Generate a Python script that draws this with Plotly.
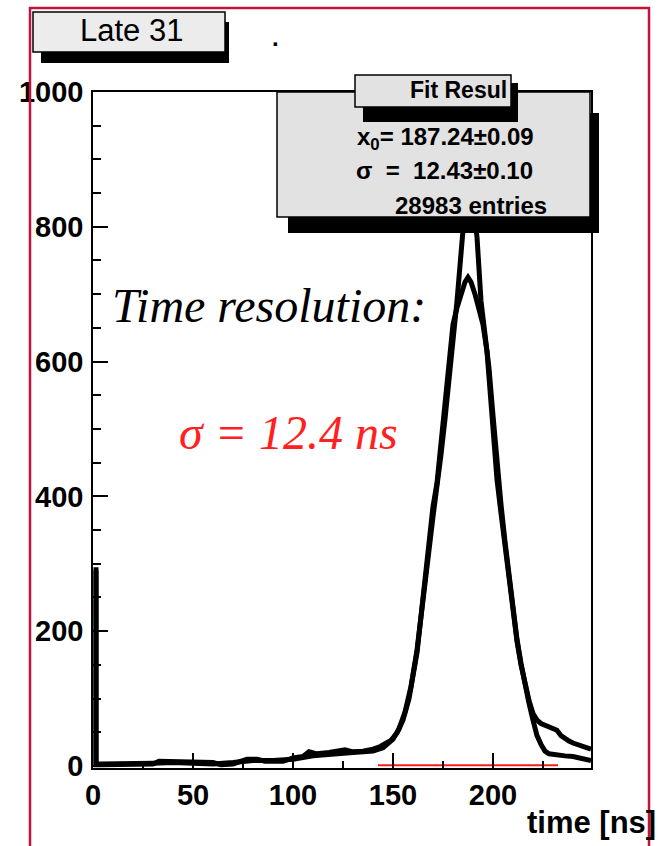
import plotly.graph_objects as go

# ---------------- data ----------------
# histogram 1 (peak ~725, longer right tail)
t_b = [1.5, 1.5, 4, 10, 20, 30, 33, 40, 50, 60, 64, 70, 77, 82, 86, 95, 100, 105, 108, 112,
       118, 122, 126, 130, 135, 140, 143, 146, 149, 152, 155, 158, 160, 162, 164, 166, 168,
       170, 172, 174, 176, 178, 180, 182, 184, 186, 187.5, 189, 191, 193, 195, 197, 199, 200,
       202, 204, 206, 208, 210, 212, 214, 216, 218, 220, 222, 224, 226, 228, 230, 232, 234,
       236, 238, 240, 242, 244, 246, 248, 249]
v_b = [295, 2, 2, 2, 2, 3, 7, 6, 6, 5, 2, 3, 10, 10, 7, 7, 12, 14, 21, 18,
       20, 22, 24, 21, 22, 25, 28, 33, 38, 49, 68, 100, 130, 168, 222, 280, 335,
       385, 420, 480, 530, 590, 655, 680, 700, 718, 725, 718, 700, 680, 655, 615, 540, 500,
       425, 375, 325, 275, 227, 185, 150, 120, 97, 78, 68, 63, 60, 58, 56, 53, 45,
       40, 37, 34, 32, 30, 28, 26, 25]

# histogram 2 (taller peak, hidden behind the stats box, short tail)
t_a = [1.5, 1.5, 4, 10, 20, 30, 40, 50, 60, 70, 80, 90, 100, 110, 120, 130, 140, 145, 150,
       153, 156, 159, 162, 165, 168, 170, 172, 174, 176, 178, 180, 182, 184, 186, 188, 190,
       192, 194, 196, 198, 200, 202, 204, 206, 208, 210, 212, 214, 216, 218, 220, 222, 224,
       226, 228, 232, 236, 240, 244, 247, 249]
v_a = [290, 3, 3, 3, 3, 4, 5, 4, 3, 5, 8, 8, 10, 15, 18, 20, 22, 27, 40,
       55, 80, 118, 172, 240, 320, 370, 412, 462, 515, 570, 630, 690, 760, 830, 860, 830,
       785, 690, 640, 590, 520, 445, 388, 333, 282, 234, 188, 152, 120, 93, 68, 45, 32,
       22, 18, 16, 15, 14, 11, 9, 8]

# fit range drawn in red along the baseline
fit_t = [142.5, 232.5]
fit_v = [1, 1]

x_ticks = [0, 50, 100, 150, 200]
y_ticks = [0, 200, 400, 600, 800, 1000]

title_text = "Late 31"
stats_title = "Fit Resul"
stats_lines = ["x<sub>0</sub>= 187.24±0.09", "σ  =  12.43±0.10", "28983 entries"]
x_label = "time [ns]"
note1 = "Time resolution:"
note2 = "σ = 12.4 ns"

# ---------------- layout helpers (pixel -> paper) ----------------
W, H = 669, 846
L, R = 93, 591      # plot area x pixels
T, B = 92, 768      # plot area y pixels


def px(x):
    return (x - L) / (R - L)


def py(y):
    return (B - y) / (B - T)


fig = go.Figure()
fig.add_trace(go.Scatter(x=t_a, y=v_a, mode="lines",
                         line=dict(color="black", width=5), hoverinfo="skip"))
fig.add_trace(go.Scatter(x=t_b, y=v_b, mode="lines",
                         line=dict(color="black", width=5), hoverinfo="skip"))
fig.add_trace(go.Scatter(x=fit_t, y=fit_v, mode="lines",
                         line=dict(color="#ff1a1a", width=2), hoverinfo="skip"))

tickfont = dict(family="Liberation Sans, Arial", size=29, color="black", weight="bold")

fig.update_xaxes(range=[0, 249], tickvals=x_ticks, ticks="inside", ticklen=15, tickwidth=1.5,
                 tickcolor="black", showline=True, linecolor="black", linewidth=1.5,
                 mirror=True, showgrid=False, zeroline=False, tickfont=tickfont,
                 minor=dict(dtick=25, tick0=0, ticks="inside", ticklen=7, tickwidth=1.5,
                            tickcolor="black", showgrid=False))
fig.update_yaxes(range=[-3, 1000], tickvals=y_ticks, ticks="inside", ticklen=15, tickwidth=1.5,
                 tickcolor="black", showline=True, linecolor="black", linewidth=1.5,
                 mirror=True, showgrid=False, zeroline=False, tickfont=tickfont,
                 ticklabelstandoff=2,
                 minor=dict(dtick=50, tick0=0, ticks="inside", ticklen=8, tickwidth=1.5,
                            tickcolor="black", showgrid=False))

shapes = []


def rect(x0, y0, x1, y1, fill, line_w=0, line_c="black"):
    shapes.append(dict(type="rect", xref="paper", yref="paper", layer="above",
                       x0=px(x0), x1=px(x1), y0=py(y1), y1=py(y0),
                       fillcolor=fill,
                       line=dict(width=line_w, color=line_c)))


# red outer frame
shapes.append(dict(type="rect", xref="paper", yref="paper", layer="above",
                   x0=px(30), x1=px(649), y0=py(900), y1=py(8),
                   line=dict(color="#c0143c", width=2.5)))
# "Late 31" box with shadow
rect(41, 22, 229, 63, "black")
rect(33, 12, 225, 52, "#ececec", 1.5)
# stats box with shadow
rect(288, 113, 599, 233, "black")
rect(277, 92, 590, 217, "#e2e2e2", 1.5)
# stats title box with shadow
rect(363, 83, 518, 122, "black")
rect(355, 75, 511, 107, "#e2e2e2", 1.5)

annotations = []


def text(x, y, s, size, color="black", family="Liberation Sans, Arial", weight="normal",
         style="normal", xanchor="center"):
    annotations.append(dict(xref="paper", yref="paper", x=px(x), y=py(y), text=s,
                            showarrow=False, xanchor=xanchor, yanchor="middle",
                            font=dict(family=family, size=size, color=color,
                                      weight=weight, style=style)))


text(131, 31, title_text, 31)
text(275, 37, ".", 24, weight="bold")
text(509, 90, stats_title, 23, weight="bold", xanchor="right")
text(445, 138, stats_lines[0], 24, weight="bold")
text(444, 170, stats_lines[1], 24, weight="bold")
text(471, 205, stats_lines[2], 24, weight="bold")
text(591, 822, x_label, 31, weight="bold")
text(269, 305, note1, 48, family="Liberation Serif, Times New Roman", style="italic")
text(288, 432, note2, 48, color="#ff2020", family="Liberation Serif, Times New Roman",
     style="italic")

fig.update_layout(width=W, height=H, margin=dict(l=L, r=W - R, t=T, b=H - B),
                  paper_bgcolor="white", plot_bgcolor="white", showlegend=False,
                  shapes=shapes, annotations=annotations)

fig.write_html("out.html", config={"displayModeBar": False},
               post_script="document.body.style.margin='0px';document.body.style.overflow='hidden';")
